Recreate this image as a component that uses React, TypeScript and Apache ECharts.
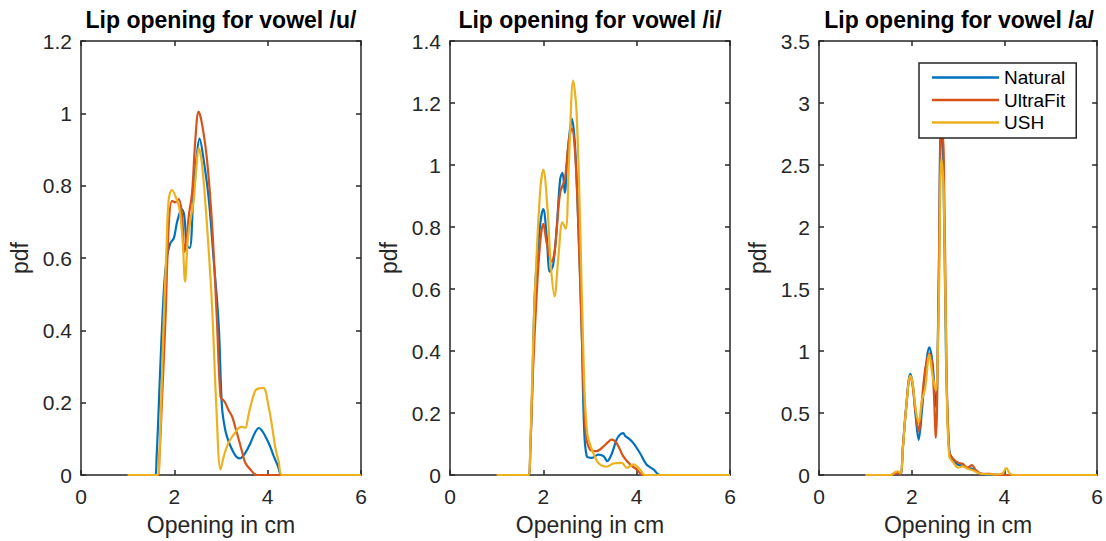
import React, { useEffect, useRef } from "react";
import * as echarts from "echarts";

// x = opening in cm, y = pdf
const uNatural = [[1,0],[1.58,0],[1.62,0.05],[1.7,0.3],[1.78,0.52],[1.84,0.6],[1.91,0.64],[1.99,0.655],[2.06,0.7],[2.16,0.735],[2.21,0.72],[2.27,0.635],[2.33,0.628],[2.41,0.78],[2.47,0.87],[2.54,0.93],[2.63,0.87],[2.74,0.76],[2.84,0.6],[2.95,0.417],[3.02,0.19],[3.09,0.125],[3.17,0.09],[3.24,0.07],[3.32,0.052],[3.4,0.046],[3.52,0.061],[3.63,0.088],[3.72,0.115],[3.81,0.13],[3.88,0.122],[3.95,0.107],[4.05,0.08],[4.13,0.052],[4.22,0.025],[4.31,0],[6,0]];
const uUltraFit = [[1,0],[1.64,0],[1.68,0.05],[1.74,0.22],[1.81,0.43],[1.88,0.69],[1.95,0.758],[2.02,0.754],[2.09,0.763],[2.16,0.727],[2.22,0.617],[2.27,0.66],[2.31,0.717],[2.38,0.78],[2.45,0.927],[2.52,1.005],[2.59,0.973],[2.7,0.872],[2.81,0.69],[2.91,0.435],[2.99,0.216],[3.05,0.207],[3.09,0.2],[3.16,0.18],[3.24,0.161],[3.31,0.13],[3.38,0.098],[3.45,0.065],[3.52,0.034],[3.63,0.015],[3.77,0],[6,0]];
const uUSH = [[1,0],[1.64,0],[1.68,0.05],[1.73,0.25],[1.77,0.417],[1.83,0.62],[1.88,0.763],[1.95,0.788],[2.02,0.772],[2.11,0.736],[2.18,0.644],[2.23,0.535],[2.29,0.654],[2.36,0.717],[2.41,0.754],[2.47,0.845],[2.52,0.904],[2.59,0.863],[2.7,0.69],[2.81,0.462],[2.9,0.189],[2.99,0.015],[3.06,0.052],[3.13,0.08],[3.2,0.098],[3.29,0.115],[3.38,0.13],[3.45,0.133],[3.52,0.13],[3.58,0.16],[3.63,0.189],[3.74,0.234],[3.83,0.24],[3.91,0.241],[4.02,0.189],[4.1,0.13],[4.16,0.079],[4.24,0.035],[4.31,0],[6,0]];

const iNatural = [[1,0],[1.68,0],[1.72,0.08],[1.77,0.32],[1.82,0.592],[1.93,0.805],[2.0,0.858],[2.07,0.773],[2.14,0.656],[2.21,0.677],[2.29,0.805],[2.36,0.954],[2.41,0.975],[2.46,0.911],[2.51,1.017],[2.56,1.1],[2.61,1.15],[2.68,1.06],[2.75,0.805],[2.82,0.486],[2.87,0.167],[2.93,0.061],[3.04,0.055],[3.18,0.066],[3.29,0.061],[3.37,0.045],[3.46,0.066],[3.57,0.114],[3.64,0.13],[3.71,0.135],[3.76,0.125],[3.82,0.119],[3.93,0.103],[4.07,0.071],[4.21,0.034],[4.36,0.018],[4.5,0],[6,0]];
const iUltraFit = [[1,0],[1.68,0],[1.72,0.08],[1.78,0.34],[1.86,0.59],[1.94,0.762],[2.0,0.81],[2.07,0.75],[2.18,0.688],[2.25,0.73],[2.36,0.911],[2.46,0.954],[2.54,1.07],[2.61,1.118],[2.68,1.04],[2.75,0.805],[2.84,0.38],[2.91,0.135],[3.0,0.082],[3.14,0.077],[3.29,0.092],[3.38,0.105],[3.46,0.114],[3.57,0.103],[3.71,0.061],[3.86,0.034],[4.0,0.018],[4.14,0],[6,0]];
const iUSH = [[1,0],[1.68,0],[1.72,0.09],[1.77,0.36],[1.82,0.59],[1.93,0.911],[2.0,0.985],[2.09,0.858],[2.16,0.677],[2.24,0.576],[2.32,0.698],[2.41,0.815],[2.48,0.794],[2.55,1.017],[2.64,1.272],[2.71,1.177],[2.79,0.805],[2.87,0.326],[2.94,0.135],[3.04,0.082],[3.18,0.039],[3.36,0.027],[3.5,0.037],[3.68,0.039],[3.79,0.023],[3.93,0.034],[4.07,0.018],[4.18,0],[6,0]];

const aNatural = [[1,0],[1.55,0],[1.63,0.015],[1.7,0.02],[1.76,0.01],[1.81,0.23],[1.88,0.55],[1.97,0.816],[2.02,0.736],[2.08,0.497],[2.15,0.284],[2.22,0.52],[2.29,0.816],[2.38,1.03],[2.45,0.9],[2.52,0.55],[2.58,1.48],[2.63,2.81],[2.68,2.54],[2.74,0.95],[2.81,0.2],[2.88,0.125],[2.99,0.085],[3.09,0.077],[3.2,0.058],[3.31,0.05],[3.45,0.019],[3.59,0.005],[3.8,0.003],[4.2,0],[6,0]];
const aUltraFit = [[1,0],[1.55,0],[1.63,0.01],[1.7,0.015],[1.76,0.01],[1.81,0.22],[1.88,0.54],[1.97,0.8],[2.02,0.72],[2.08,0.52],[2.15,0.35],[2.22,0.6],[2.29,0.85],[2.38,0.98],[2.45,0.85],[2.52,0.3],[2.58,1.5],[2.64,2.85],[2.69,2.6],[2.75,0.9],[2.81,0.18],[2.9,0.13],[3.0,0.1],[3.1,0.09],[3.2,0.06],[3.3,0.08],[3.38,0.04],[3.5,0.01],[3.7,0.01],[3.8,0],[6,0]];
const aUSH = [[1,0],[1.55,0],[1.63,0.02],[1.7,0.03],[1.76,0.015],[1.81,0.22],[1.88,0.54],[1.97,0.8],[2.02,0.74],[2.08,0.55],[2.15,0.42],[2.22,0.6],[2.29,0.7],[2.38,0.97],[2.45,0.8],[2.52,0.68],[2.58,1.3],[2.64,2.55],[2.69,2.3],[2.75,0.8],[2.81,0.15],[2.9,0.1],[3.0,0.06],[3.1,0.07],[3.2,0.05],[3.3,0.04],[3.5,0.01],[3.8,0.005],[3.95,0.01],[4.04,0.055],[4.12,0.01],[4.2,0],[6,0]];

const seriesNames = ["Natural", "UltraFit", "USH"];
const colors = ["#0072BD", "#D95319", "#EDB120"];
const titles = ["Lip opening for vowel /u/", "Lip opening for vowel /i/", "Lip opening for vowel /a/"];
const yMax = [1.2, 1.4, 3.5];
const yStep = [0.2, 0.2, 0.5];
const panels = [
  [uNatural, uUltraFit, uUSH],
  [iNatural, iUltraFit, iUSH],
  [aNatural, aUltraFit, aUSH],
];

const FONT = "'Liberation Sans', Helvetica, Arial, sans-serif";
const AXIS = "#262626";
const gridLeft = [81, 450, 819];
const gridTop = 41;
const gridW = 280;
const gridH = 439;

const App: React.FC = () => {
  const chartRef = useRef<HTMLDivElement>(null);

  useEffect(() => {
    document.body.style.margin = "0";
    if (!chartRef.current) return;
    const chart = echarts.init(chartRef.current, null, { renderer: "svg" });

    const lineCommon = { lineStyle: { color: AXIS, width: 1.5 } };
    const xAxes: any[] = [];
    const yAxes: any[] = [];
    [0, 1, 2].forEach((i) => {
      xAxes.push({
        type: "value",
        gridIndex: i,
        min: 0,
        max: 6,
        interval: 2,
        position: "bottom",
        name: "Opening in cm",
        nameLocation: "middle",
        nameGap: 38,
        nameTextStyle: { fontSize: 23, color: AXIS, fontFamily: FONT },
        axisLine: { show: true, onZero: false, ...lineCommon },
        axisTick: { show: true, inside: true, length: 5, ...lineCommon },
        axisLabel: { fontSize: 21, color: AXIS, fontFamily: FONT, margin: 11 },
        splitLine: { show: false },
      });
      yAxes.push({
        type: "value",
        gridIndex: i,
        min: 0,
        max: yMax[i],
        interval: yStep[i],
        position: "left",
        name: "pdf",
        nameLocation: "middle",
        nameGap: 50,
        nameTextStyle: { fontSize: 23, color: AXIS, fontFamily: FONT },
        axisLine: { show: true, onZero: false, ...lineCommon },
        axisTick: { show: true, inside: true, length: 5, ...lineCommon },
        axisLabel: { fontSize: 21, color: AXIS, fontFamily: FONT, margin: 9 },
        splitLine: { show: false },
      });
    });
    [0, 1, 2].forEach((i) => {
      xAxes.push({
        type: "value",
        gridIndex: i,
        min: 0,
        max: 6,
        interval: 2,
        position: "top",
        axisLine: { show: true, onZero: false, ...lineCommon },
        axisTick: { show: true, inside: true, length: 5, ...lineCommon },
        axisLabel: { show: false },
        splitLine: { show: false },
      });
      yAxes.push({
        type: "value",
        gridIndex: i,
        min: 0,
        max: yMax[i],
        interval: yStep[i],
        position: "right",
        axisLine: { show: true, onZero: false, ...lineCommon },
        axisTick: { show: true, inside: true, length: 5, ...lineCommon },
        axisLabel: { show: false },
        splitLine: { show: false },
      });
    });

    const series: any[] = [];
    panels.forEach((panel, i) => {
      panel.forEach((data, k) => {
        series.push({
          name: seriesNames[k],
          type: "line",
          xAxisIndex: i,
          yAxisIndex: i,
          data,
          symbol: "none",
          smooth: 0.35,
          lineStyle: { color: colors[k], width: 2.2 },
          itemStyle: { color: colors[k] },
          z: 2 + k,
        });
      });
    });

    chart.setOption({
      animation: false,
      backgroundColor: "#fff",
      grid: gridLeft.map((left) => ({
        left,
        top: gridTop,
        width: gridW,
        height: gridH,
      })),
      xAxis: xAxes,
      yAxis: yAxes,
      legend: {
        data: seriesNames.map((name, k) => ({
          name,
          icon: "rect",
          itemStyle: { color: colors[k] },
        })),
        orient: "vertical",
        left: 919,
        top: 63,
        padding: [5, 11, 6, 13],
        itemWidth: 67,
        itemHeight: 2.5,
        itemGap: 3.5,
        backgroundColor: "#fff",
        borderColor: AXIS,
        borderWidth: 1.5,
        borderRadius: 0,
        textStyle: { fontSize: 19, color: "#000", fontFamily: FONT, lineHeight: 19 },
      },
      graphic: titles.map((text, i) => ({
        type: "text",
        x: gridLeft[i] + gridW / 2,
        y: 20,
        style: {
          text,
          fill: "#000",
          font: `bold 23px ${FONT}`,
          textAlign: "center",
          textVerticalAlign: "middle",
        },
      })),
      series,
    });

    return () => {
      chart.dispose();
    };
  }, []);

  return <div ref={chartRef} style={{ width: 1106, height: 541 }} />;
};

export default App;
